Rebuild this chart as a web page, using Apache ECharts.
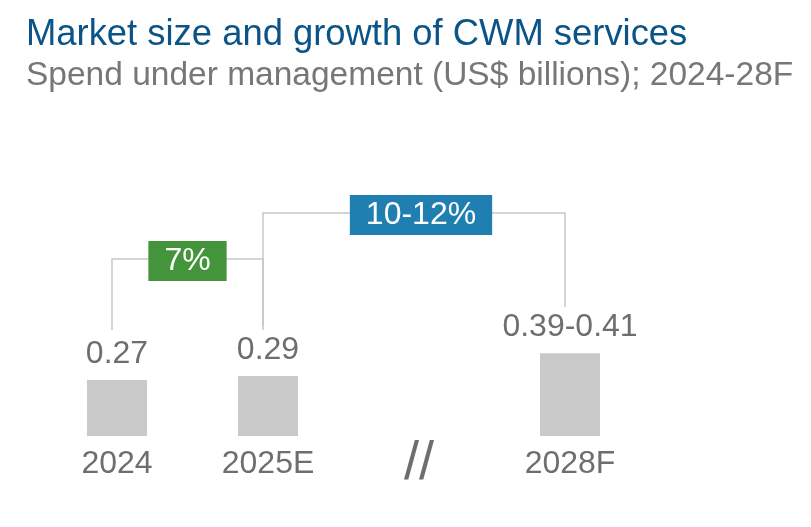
<!DOCTYPE html>
<html>
<head>
<meta charset="utf-8">
<script src="https://cdn.jsdelivr.net/npm/echarts@6/dist/echarts.min.js"></script>
<style>
html, body { margin: 0; padding: 0; background: #fff; }
#chart { width: 811px; height: 527px; }
</style>
</head>
<body>
<div id="chart"></div>
<script>
// chart data
var categories = ['2024', '2025E', '//', '2028F'];
var spend = [0.27, 0.29, null, 0.40];
var spendLabels = ['0.27', '0.29', '', '0.39-0.41'];
var growthFrom = ['2024', '2025E'];
var growthTo = ['2025E', '2028F'];
var growthLabels = ['7%', '10-12%'];

var FONT = '"Liberation Sans", Arial, sans-serif';
var TEXT_GREY = '#6e6e6e';
var LINE_GREY = '#c8c8c8';
var growthColors = ['#43943a', '#1f7fb0'];

var growthData = growthFrom.map(function (f, k) {
	return [categories.indexOf(f), categories.indexOf(growthTo[k])];
});

// bracket with a coloured growth box between two bars
function renderBracket(params, api) {
	var i = params.dataIndex;
	var a = api.value(0), b = api.value(1);
	var base = api.coord([a, 0])[1];
	var pa = api.coord([a, spend[a]]);
	var pb = api.coord([b, spend[b]]);
	var level = base - (177 + 46 * i);
	var xa = pa[0] - 5, xb = pb[0] - 5;
	var ya = pa[1] - 50, yb = pb[1] - 46;
	return {
		type: 'group',
		children: [{
			type: 'polyline',
			shape: { points: [[xa, ya], [xa, level], [xb, level], [xb, yb]] },
			style: { stroke: LINE_GREY, lineWidth: 1.5, fill: null }
		}, {
			type: 'text',
			x: (xa + xb) / 2 + 7 * i,
			y: level + 2,
			style: {
				text: growthLabels[i],
				fill: '#fff',
				fontSize: 32,
				fontFamily: FONT,
				lineHeight: 32,
				align: 'center',
				verticalAlign: 'middle',
				backgroundColor: growthColors[i],
				padding: [4, 16]
			}
		}]
	};
}

var chart = echarts.init(document.getElementById('chart'));
chart.setOption({
	animation: false,
	title: {
		text: 'Market size and growth of CWM services',
		subtext: 'Spend under management (US$ billions); 2024-28F',
		left: 26,
		top: 17,
		padding: 0,
		itemGap: 6,
		textStyle: {
			color: '#0b5487',
			fontSize: 36.4,
			fontWeight: 'normal',
			fontFamily: FONT,
			lineHeight: 36
		},
		subtextStyle: {
			color: '#777777',
			fontSize: 33.5,
			fontFamily: FONT,
			lineHeight: 33
		}
	},
	grid: {
		left: 41.5,
		right: 165.5,
		top: 229,
		bottom: 91
	},
	xAxis: {
		type: 'category',
		data: categories,
		axisLine: { show: false },
		axisTick: { show: false },
		axisLabel: {
			margin: 12,
			color: TEXT_GREY,
			fontSize: 32,
			fontFamily: FONT,
			lineHeight: 32,
			formatter: function (v) {
				return v === '//' ? '{sep|//}' : v;
			},
			rich: {
				sep: { fontSize: 54, lineHeight: 32, color: TEXT_GREY, fontFamily: FONT }
			}
		}
	},
	yAxis: {
		type: 'value',
		show: false,
		min: 0,
		max: 1,
		splitLine: { show: false }
	},
	series: [{
		name: 'Spend',
		type: 'bar',
		data: spend,
		barWidth: 60,
		itemStyle: { color: '#c9c9c9' },
		label: {
			show: true,
			position: 'top',
			distance: 10,
			color: TEXT_GREY,
			fontSize: 32,
			fontFamily: FONT,
			lineHeight: 32,
			formatter: function (p) {
				return spendLabels[p.dataIndex];
			}
		}
	}, {
		name: 'Growth',
		type: 'custom',
		data: growthData,
		renderItem: renderBracket,
		clip: false,
		silent: true,
		z: 5
	}]
});
</script>
</body>
</html>
